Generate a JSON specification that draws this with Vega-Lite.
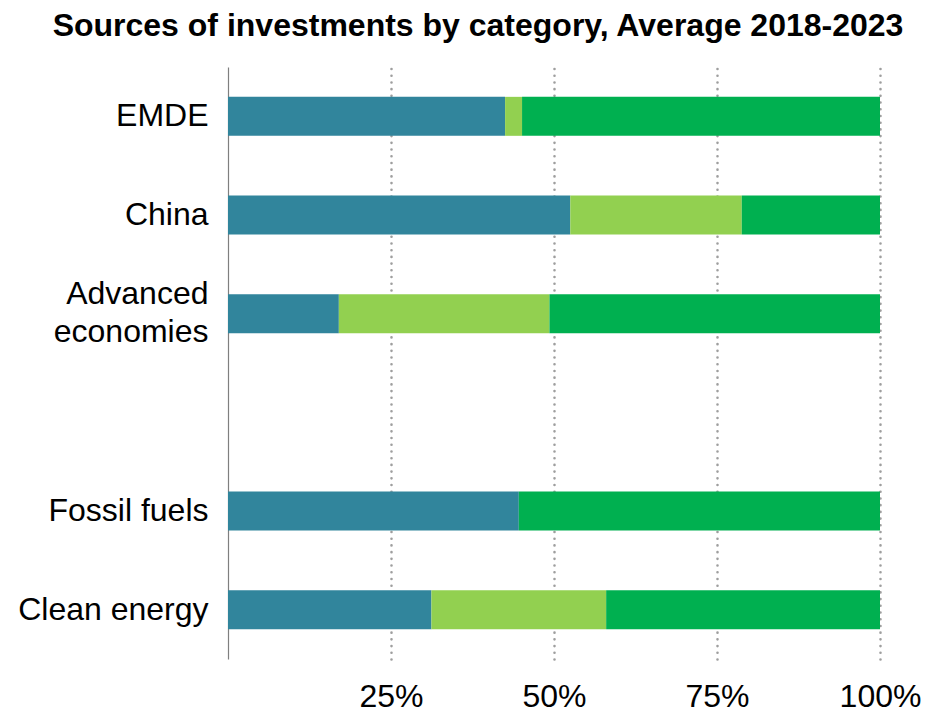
{
  "$schema": "https://vega.github.io/schema/vega-lite/v6.json",
  "width": 652,
  "height": 592,
  "autosize": {"type": "pad"},
  "padding": {"left": 17, "top": 10, "right": 5, "bottom": 5},
  "background": "white",
  "title": {
    "text": "Sources of investments by category, Average 2018-2023",
    "font": "Liberation Sans",
    "fontSize": 32,
    "fontWeight": "bold",
    "color": "#000000",
    "anchor": "middle",
    "frame": "group",
    "dx": -76,
    "offset": 24
  },
  "config": {"view": {"stroke": null}},
  "data": {
    "values": [
      {"category": "EMDE", "source": "Public", "rank": 1, "value": 42.5},
      {"category": "EMDE", "source": "Households", "rank": 2, "value": 2.6},
      {"category": "EMDE", "source": "Private", "rank": 3, "value": 54.9},
      {"category": "China", "source": "Public", "rank": 1, "value": 52.5},
      {"category": "China", "source": "Households", "rank": 2, "value": 26.3},
      {"category": "China", "source": "Private", "rank": 3, "value": 21.2},
      {"category": "Advanced economies", "source": "Public", "rank": 1, "value": 17.0},
      {"category": "Advanced economies", "source": "Households", "rank": 2, "value": 32.3},
      {"category": "Advanced economies", "source": "Private", "rank": 3, "value": 50.7},
      {"category": "Fossil fuels", "source": "Public", "rank": 1, "value": 44.6},
      {"category": "Fossil fuels", "source": "Households", "rank": 2, "value": 0},
      {"category": "Fossil fuels", "source": "Private", "rank": 3, "value": 55.4},
      {"category": "Clean energy", "source": "Public", "rank": 1, "value": 31.2},
      {"category": "Clean energy", "source": "Households", "rank": 2, "value": 26.8},
      {"category": "Clean energy", "source": "Private", "rank": 3, "value": 42.0}
    ]
  },
  "mark": {"type": "bar"},
  "encoding": {
    "y": {
      "field": "category",
      "type": "nominal",
      "scale": {
        "domain": ["EMDE", "China", "Advanced economies", " ", "Fossil fuels", "Clean energy"],
        "paddingInner": 0.605,
        "paddingOuter": 0.3025
      },
      "axis": {
        "title": null,
        "labelFont": "Liberation Sans",
        "labelFontSize": 32,
        "labelColor": "#000000",
        "labelPadding": 20,
        "labelLimit": 400,
        "labelLineHeight": 38,
        "labelOffset": {"condition": {"test": "datum.value == 'Advanced economies'", "value": -20}, "value": 0},
        "ticks": false,
        "domain": true,
        "domainColor": "#7f7f7f",
        "domainWidth": 1.2,
        "labelExpr": "datum.value == 'Advanced economies' ? ['Advanced\u00a0', 'economies'] : datum.value"
      }
    },
    "x": {
      "field": "value",
      "type": "quantitative",
      "stack": "zero",
      "scale": {"domain": [0, 100], "nice": false},
      "axis": {
        "title": null,
        "values": [25, 50, 75, 100],
        "labelExpr": "datum.value + '%'",
        "labelFont": "Liberation Sans",
        "labelFontSize": 32,
        "labelColor": "#000000",
        "labelPadding": 22,
        "labelFlush": false,
        "labelOverlap": false,
        "ticks": false,
        "tickSize": 0,
        "domain": false,
        "grid": true,
        "gridColor": "#9e9e9e",
        "gridWidth": 2.6,
        "gridCap": "round",
        "gridDash": [0.01, 6.7]
      }
    },
    "color": {
      "field": "source",
      "type": "nominal",
      "scale": {
        "domain": ["Public", "Households", "Private"],
        "range": ["#31859c", "#92d050", "#00b050"]
      },
      "legend": null
    },
    "order": {"field": "rank", "type": "quantitative", "sort": "ascending"}
  }
}
